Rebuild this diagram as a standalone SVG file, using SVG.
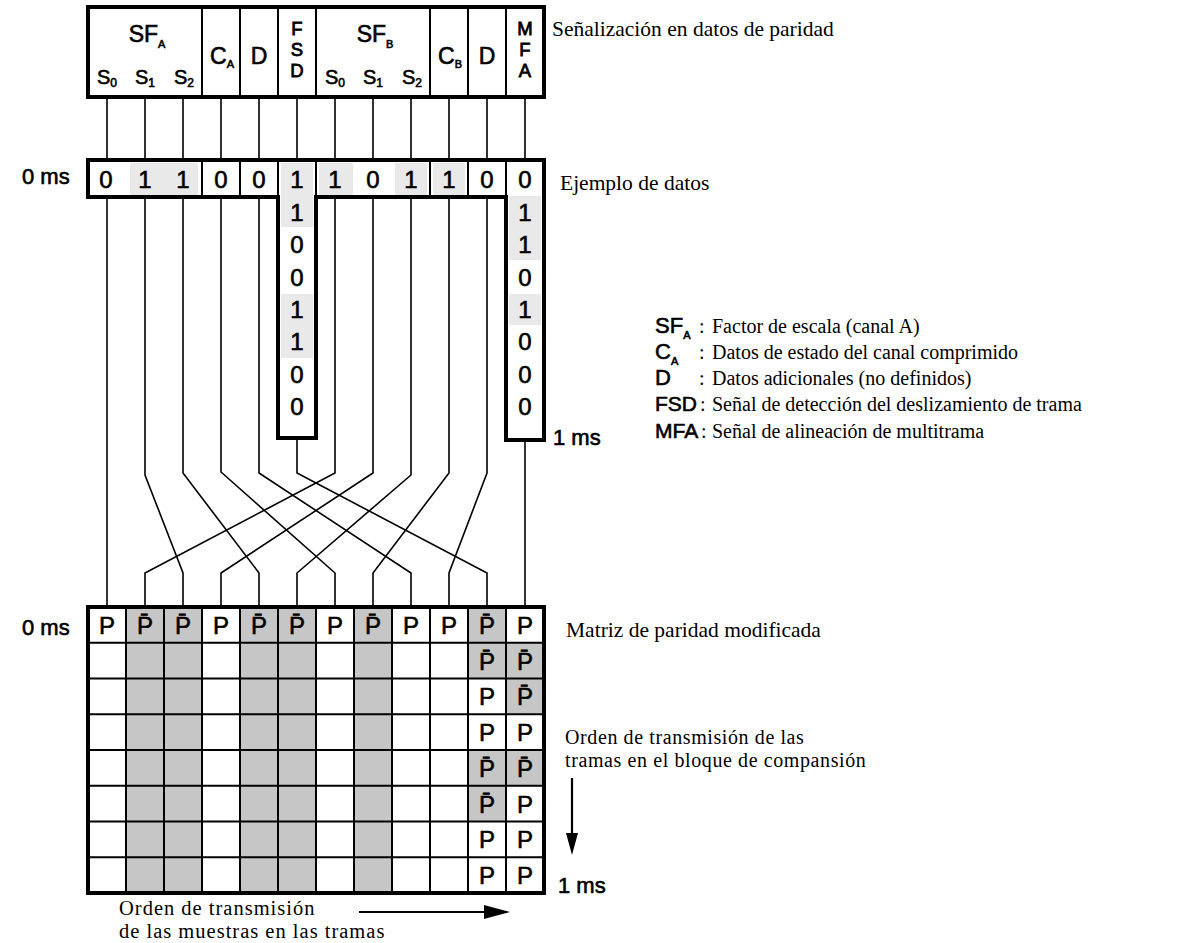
<svg xmlns="http://www.w3.org/2000/svg" width="1182" height="943" viewBox="0 0 1182 943">
<defs>
<style>
.sans{font-family:"Liberation Sans","Noto Sans",sans-serif;fill:#000;stroke:#000;stroke-width:0.6}
.serif{font-family:"Liberation Serif","DejaVu Serif",serif;fill:#000;font-size:21.5px}
.leg{font-size:20px}
.two{font-size:20px;letter-spacing:0.6px}
.bot{font-size:20.5px;letter-spacing:1px}
.hd{font-size:23px}
.sub{font-size:11px}
.stk{font-size:18.5px;text-anchor:middle;stroke-width:0.8}
.dig{font-size:24px;text-anchor:middle}
.pm{font-size:24px;text-anchor:middle}
.thick{fill:none;stroke:#000;stroke-width:4}
.thin{fill:none;stroke:#000;stroke-width:2}
.wire{fill:none;stroke:#000;stroke-width:1.6;stroke-linejoin:miter}
.shade{fill:#c6c6c6}
.lite{fill:#e9e9e9}
.lbl{font-size:22px}
</style>
</defs>
<rect width="1182" height="943" fill="#fff"/>

<!-- Header node -->
<g id="header">
<rect x="88" y="7" width="456" height="90" class="thick"/>
<path class="thin" d="M202,7V97M240,7V97M278,7V97M316,7V97M430,7V97M468,7V97M506,7V97"/>
<text class="sans hd" x="147" y="42" text-anchor="middle">SF<tspan class="sub" dy="6">A</tspan></text>
<text class="sans" x="107" y="84" text-anchor="middle" font-size="20">S<tspan font-size="12" dy="3">0</tspan></text>
<text class="sans" x="145" y="84" text-anchor="middle" font-size="20">S<tspan font-size="12" dy="3">1</tspan></text>
<text class="sans" x="184" y="84" text-anchor="middle" font-size="20">S<tspan font-size="12" dy="3">2</tspan></text>
<text class="sans hd" x="222" y="64" text-anchor="middle">C<tspan class="sub" dy="4">A</tspan></text>
<text class="sans hd" x="259" y="64" text-anchor="middle">D</text>
<text class="sans stk" x="297" y="35">F</text>
<text class="sans stk" x="297" y="55.8">S</text>
<text class="sans stk" x="297" y="76.6">D</text>
<text class="sans hd" x="375" y="42" text-anchor="middle">SF<tspan class="sub" dy="6">B</tspan></text>
<text class="sans" x="335" y="84" text-anchor="middle" font-size="20">S<tspan font-size="12" dy="3">0</tspan></text>
<text class="sans" x="373" y="84" text-anchor="middle" font-size="20">S<tspan font-size="12" dy="3">1</tspan></text>
<text class="sans" x="412" y="84" text-anchor="middle" font-size="20">S<tspan font-size="12" dy="3">2</tspan></text>
<text class="sans hd" x="450" y="64" text-anchor="middle">C<tspan class="sub" dy="4">B</tspan></text>
<text class="sans hd" x="487" y="64" text-anchor="middle">D</text>
<text class="sans stk" x="525" y="35">M</text>
<text class="sans stk" x="525" y="55.8">F</text>
<text class="sans stk" x="525" y="76.6">A</text>
</g>

<!-- Data example node -->
<g id="data">
<rect class="lite" x="130" y="163" width="68" height="32"/>
<rect class="lite" x="281" y="163" width="32" height="64"/>
<rect class="lite" x="319" y="163" width="34" height="32"/>
<rect class="lite" x="395" y="163" width="32" height="32"/>
<rect class="lite" x="433" y="163" width="32" height="32"/>
<rect class="lite" x="281" y="294" width="32" height="64"/>
<rect class="lite" x="509" y="196" width="32" height="64"/>
<rect class="lite" x="509" y="294" width="32" height="31"/>
<path class="thick" d="M88,160H544V440H506V197H316V438H278V197H88Z"/>
<path class="thin" d="M202,160V197M240,160V197M278,160V197M316,160V197M430,160V197M468,160V197M506,160V197"/>
<g class="sans dig">
<text x="106" y="188">0</text><text x="145" y="188">1</text><text x="183" y="188">1</text>
<text x="221" y="188">0</text><text x="259" y="188">0</text><text x="297" y="188">1</text>
<text x="335" y="188">1</text><text x="373" y="188">0</text><text x="411" y="188">1</text>
<text x="449" y="188">1</text><text x="487" y="188">0</text><text x="525" y="188">0</text>
<text x="297" y="221">1</text><text x="297" y="253">0</text><text x="297" y="286">0</text><text x="297" y="318">1</text><text x="297" y="350">1</text><text x="297" y="383">0</text><text x="297" y="415">0</text>
<text x="525" y="221">1</text><text x="525" y="253">1</text><text x="525" y="286">0</text><text x="525" y="318">1</text><text x="525" y="350">0</text><text x="525" y="383">0</text><text x="525" y="415">0</text>
</g>
</g>

<!-- Connectors -->
<g id="connectors" class="wire">
<path d="M107,97V160M145,97V160M183,97V160M221,97V160M259,97V160M297,97V160M335,97V160M373,97V160M411,97V160M449,97V160M487,97V160M525,97V160"/>
<path d="M107,197V607"/>
<path d="M145,197V475L183,573V607"/>
<path d="M183,197V473L259,573V607"/>
<path d="M221,197V472L335,573V607"/>
<path d="M259,197V473L411,573V607"/>
<path d="M297,438V473L487,573V607"/>
<path d="M335,197V473L145,573V607"/>
<path d="M373,197V473L221,573V607"/>
<path d="M411,197V475L297,573V607"/>
<path d="M449,197V473L373,573V607"/>
<path d="M487,197V473L449,573V607"/>
<path d="M525,440V607"/>
</g>

<!-- Parity matrix node -->
<g id="matrix">
<g class="shade">
<rect x="126" y="607" width="76" height="286"/>
<rect x="240" y="607" width="76" height="286"/>
<rect x="354" y="607" width="38" height="286"/>
<rect x="468" y="607" width="38" height="71.5"/>
<rect x="468" y="750" width="38" height="71.5"/>
<rect x="506" y="642.75" width="38" height="71.5"/>
<rect x="506" y="750" width="38" height="35.75"/>
</g>
<path class="thin" d="M126,607V893M164,607V893M202,607V893M240,607V893M278,607V893M316,607V893M354,607V893M392,607V893M430,607V893M468,607V893M506,607V893M88,642.75H544M88,678.5H544M88,714.25H544M88,750H544M88,785.75H544M88,821.5H544M88,857.25H544"/>
<rect x="88" y="607" width="456" height="286" class="thick"/>
<g class="sans pm">
<text x="107" y="634">P</text><text x="145" y="634">P̄</text><text x="183" y="634">P̄</text>
<text x="221" y="634">P</text><text x="259" y="634">P̄</text><text x="297" y="634">P̄</text>
<text x="335" y="634">P</text><text x="373" y="634">P̄</text><text x="411" y="634">P</text>
<text x="449" y="634">P</text><text x="487" y="634">P̄</text><text x="525" y="634">P</text>
<text x="487" y="670">P̄</text><text x="525" y="670">P̄</text>
<text x="487" y="705">P</text><text x="525" y="705">P̄</text>
<text x="487" y="741">P</text><text x="525" y="741">P</text>
<text x="487" y="777">P̄</text><text x="525" y="777">P̄</text>
<text x="487" y="813">P̄</text><text x="525" y="813">P</text>
<text x="487" y="848">P</text><text x="525" y="848">P</text>
<text x="487" y="884">P</text><text x="525" y="884">P</text>
</g>
</g>

<!-- Labels -->
<g id="labels">
<text class="serif" x="552" y="36">Señalización en datos de paridad</text>
<text class="sans lbl" x="22" y="184">0 ms</text>
<text class="serif" x="560" y="190">Ejemplo de datos</text>
<text class="sans lbl" x="553" y="445">1 ms</text>
<text class="sans lbl" x="22" y="635">0 ms</text>
<text class="serif" x="566" y="637">Matriz de paridad modificada</text>
<text class="serif two" x="565" y="744">Orden de transmisión de las</text>
<text class="serif two" x="565" y="767">tramas en el bloque de compansión</text>
<text class="sans lbl" x="558" y="893">1 ms</text>
<text class="serif bot" x="119" y="915">Orden de transmisión</text>
<text class="serif bot" x="119" y="938">de las muestras en las tramas</text>
</g>

<!-- Arrows -->
<g id="arrows">
<line x1="572" y1="778" x2="572" y2="838" stroke="#000" stroke-width="2.2"/>
<polygon points="566,833 578,833 572,855" fill="#000"/>
<line x1="359" y1="912" x2="488" y2="912" stroke="#000" stroke-width="2.2"/>
<polygon points="484,905 484,919 510,912" fill="#000"/>
</g>

<!-- Legend -->
<g id="legend">
<text class="sans" x="655" y="333" font-size="22">SF<tspan class="sub" dy="6">A</tspan></text>
<text class="serif leg" x="699" y="333">:</text>
<text class="serif leg" x="712" y="333">Factor de escala (canal A)</text>
<text class="sans" x="655" y="359" font-size="22">C<tspan class="sub" dy="6">A</tspan></text>
<text class="serif leg" x="699" y="359">:</text>
<text class="serif leg" x="712" y="359">Datos de estado del canal comprimido</text>
<text class="sans" x="655" y="385" font-size="22">D</text>
<text class="serif leg" x="699" y="385">:</text>
<text class="serif leg" x="712" y="385">Datos adicionales (no definidos)</text>
<text class="sans" x="655" y="411" font-size="21">FSD</text>
<text class="serif leg" x="700" y="411">:</text>
<text class="serif leg" x="712" y="411">Señal de detección del deslizamiento de trama</text>
<text class="sans" x="655" y="438" font-size="21">MFA</text>
<text class="serif leg" x="701" y="438">:</text>
<text class="serif leg" x="712" y="438">Señal de alineación de multitrama</text>
</g>
</svg>
